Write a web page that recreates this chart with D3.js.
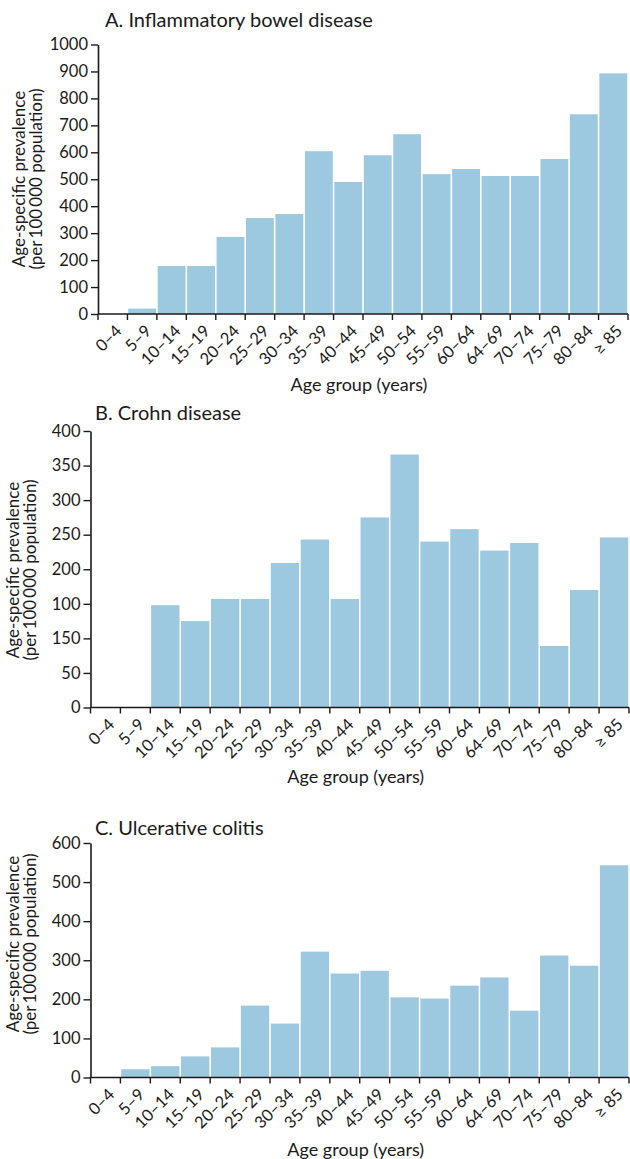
<!DOCTYPE html>
<html>
<head>
<meta charset="utf-8">
<script src="https://cdn.jsdelivr.net/npm/d3@7"></script>
<style>
  html, body { margin: 0; padding: 0; background: #fff; }
  svg { display: block; font-family: Lato, "Open Sans", sans-serif; }
</style>
</head>
<body>
<svg id="chart" width="630" height="1159"></svg>
<script>
// Age groups shared by all three panels
const ageGroups = ["0–4", "5–9", "10–14", "15–19", "20–24", "25–29", "30–34", "35–39", "40–44",
  "45–49", "50–54", "55–59", "60–64", "64–69", "70–74", "75–79", "80–84", "≥ 85"];

// Age-specific prevalence per 100 000 population
const ibdValues = [0, 20, 178, 178, 286, 356, 371, 604, 490, 589, 667, 519, 538, 512, 512, 575, 741, 893];
const crohnValues = [0, 0, 148, 125, 157, 157, 209, 243, 157, 275, 366, 240, 258, 227, 238, 89, 170, 246];
const ucValues = [0, 21, 29, 54, 77, 184, 138, 322, 266, 273, 205, 202, 235, 256, 171, 312, 286, 543];

// Y-axis ticks and their printed labels
const ibdTickValues = [0, 100, 200, 300, 400, 500, 600, 700, 800, 900, 1000];
const ibdTickLabels = ["0", "100", "200", "300", "400", "500", "600", "700", "800", "900", "1000"];
const crohnTickValues = [0, 50, 100, 150, 200, 250, 300, 350, 400];
const crohnTickLabels = ["0", "50", "150", "100", "200", "250", "300", "350", "400"];
const ucTickValues = [0, 100, 200, 300, 400, 500, 600];
const ucTickLabels = ["0", "100", "200", "300", "400", "500", "600"];

const panelTitles = ["A. Inflammatory bowel disease", "B. Crohn disease", "C. Ulcerative colitis"];
const yTitleLines = ["Age-specific prevalence", "(per\u2009100\u2009000 population)"];
const xTitle = "Age group (years)";

const BAR = "#9cc8e0";
const INK = "#1a1a1a";

const svg = d3.select("#chart");

const panels = [
  { values: ibdValues, ticks: ibdTickValues, labels: ibdTickLabels, max: 1000, title: panelTitles[0],
    left: 98, right: 628, top: 44.5, bottom: 314, titleX: 105, titleY: 27,
    yTitleX: 20, yTitleY: 179, xTitleY: 391 },
  { values: crohnValues, ticks: crohnTickValues, labels: crohnTickLabels, max: 400, title: panelTitles[1],
    left: 90.5, right: 629, top: 431, bottom: 707.5, titleX: 95, titleY: 420,
    yTitleX: 14, yTitleY: 570, xTitleY: 783 },
  { values: ucValues, ticks: ucTickValues, labels: ucTickLabels, max: 600, title: panelTitles[2],
    left: 90.5, right: 629, top: 843, bottom: 1077.5, titleX: 95, titleY: 835,
    yTitleX: 14, yTitleY: 944, xTitleY: 1156 }
];

panels.forEach(p => {
  const g = svg.append("g");

  const x = d3.scaleBand().domain(ageGroups).range([p.left, p.right]).paddingInner(0).paddingOuter(0);
  const y = d3.scaleLinear().domain([0, p.max]).range([p.bottom, p.top]);
  const step = x.step();

  // bars
  g.selectAll("rect.bar")
    .data(ageGroups.map((a, i) => ({ age: a, v: p.values[i] })))
    .join("rect")
    .attr("class", "bar")
    .attr("x", d => x(d.age) + 0.8)
    .attr("width", step - 1.6)
    .attr("y", d => y(d.v))
    .attr("height", d => y(0) - y(d.v))
    .attr("fill", BAR);

  // y axis
  const yAxis = d3.axisLeft(y)
    .tickValues(p.ticks)
    .tickFormat((d, i) => p.labels[i])
    .tickSizeInner(7).tickSizeOuter(0).tickPadding(3);
  const ya = g.append("g").attr("transform", `translate(${p.left},0)`).call(yAxis);
  ya.select(".domain").attr("stroke", INK).attr("stroke-width", 1.6);
  ya.selectAll(".tick line").attr("stroke", INK).attr("stroke-width", 1.4);
  ya.selectAll(".tick text").attr("fill", INK).attr("font-size", 16.5).attr("font-family", "Lato, sans-serif");

  // x axis: baseline, boundary ticks and rotated labels
  g.append("line")
    .attr("x1", p.left).attr("x2", p.right)
    .attr("y1", y(0)).attr("y2", y(0))
    .attr("stroke", INK).attr("stroke-width", 1.6);

  g.selectAll("line.xtick")
    .data(d3.range(ageGroups.length + 1))
    .join("line")
    .attr("class", "xtick")
    .attr("x1", i => p.left + i * step).attr("x2", i => p.left + i * step)
    .attr("y1", y(0)).attr("y2", y(0) + 6)
    .attr("stroke", INK).attr("stroke-width", 1.4);

  g.selectAll("text.xlab")
    .data(ageGroups)
    .join("text")
    .attr("class", "xlab")
    .attr("transform", d => `translate(${x(d) + step / 2 + 6},${y(0) + 14}) rotate(-45)`)
    .attr("text-anchor", "end")
    .attr("dy", "0.35em")
    .attr("font-size", 16.5)
    .attr("fill", INK)
    .text(d => d);

  // panel title
  g.append("text")
    .attr("x", p.titleX).attr("y", p.titleY)
    .attr("font-size", 20).attr("fill", INK)
    .text(p.title);

  // x-axis title
  g.append("text")
    .attr("x", (p.left + p.right) / 2 - 4).attr("y", p.xTitleY)
    .attr("text-anchor", "middle")
    .attr("font-size", 18).attr("fill", INK)
    .text(xTitle);

  // y-axis title, two lines
  const yt = g.append("text")
    .attr("transform", `translate(${p.yTitleX},${p.yTitleY}) rotate(-90)`)
    .attr("text-anchor", "middle")
    .attr("font-size", 17).attr("fill", INK);
  yTitleLines.forEach((line, i) => {
    yt.append("tspan").attr("x", 0).attr("dy", i === 0 ? "0.3em" : "1.0em").text(line);
  });
});
</script>
</body>
</html>
